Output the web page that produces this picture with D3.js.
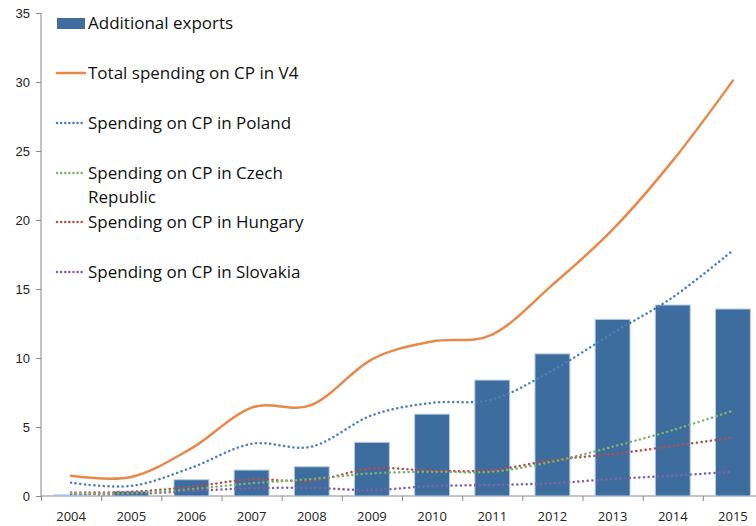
<!DOCTYPE html>
<html>
<head>
<meta charset="utf-8">
<script src="https://cdn.jsdelivr.net/npm/d3@7"></script>
<style>
    body { margin: 0; background: #fff; }
    svg { display: block; font-family: "Open Sans", "Liberation Sans", sans-serif; }
</style>
</head>
<body>
<div id="chart"></div>
<script>
// --- Data ---
const years = ['2004', '2005', '2006', '2007', '2008', '2009', '2010', '2011', '2012', '2013', '2014', '2015'];
const additionalExports = [0.08, 0.35, 1.18, 1.88, 2.12, 3.89, 5.93, 8.4, 10.3, 12.8, 13.84, 13.55];
const totalV4 = [1.47, 1.38, 3.45, 6.4, 6.6, 9.9, 11.2, 11.7, 15.3, 19.3, 24.3, 30.1];
const poland = [0.96, 0.73, 2.05, 3.78, 3.58, 5.85, 6.75, 7.0, 9.1, 11.8, 14.4, 17.8];
const czech = [0.2, 0.2, 0.5, 0.92, 1.23, 1.64, 1.76, 1.76, 2.49, 3.57, 4.78, 6.18];
const hungary = [0.25, 0.3, 0.67, 1.2, 1.1, 2.0, 1.83, 1.88, 2.6, 3.04, 3.62, 4.23];
const slovakia = [0.15, 0.15, 0.36, 0.56, 0.58, 0.43, 0.72, 0.8, 0.92, 1.23, 1.47, 1.76];
const yTicks = [0, 5, 10, 15, 20, 25, 30, 35];

const lineSeries = [
    { name: 'Total spending on CP in V4', values: totalV4, color: '#E8894A', dotted: false },
    { name: 'Spending on CP in Poland', values: poland, color: '#4A7EBB', dotted: true },
    { name: 'Spending on CP in Czech|Republic', values: czech, color: '#7FB069', dotted: true },
    { name: 'Spending on CP in Hungary', values: hungary, color: '#B0504E', dotted: true },
    { name: 'Spending on CP in Slovakia', values: slovakia, color: '#8060A8', dotted: true }
];

// --- Chart ---
const width = 756, height = 526;
const svg = d3.select('#chart').append('svg')
    .attr('width', width)
    .attr('height', height);

const x = d3.scaleBand().domain(years).range([41, 763]).paddingInner(0.42).paddingOuter(0.21);
const y = d3.scaleLinear().domain([0, 35]).range([496, 13]);
const step = x.step();
const cx = d => x(d) + x.bandwidth() / 2;

// y axis
const yAxis = svg.append('g')
    .attr('transform', 'translate(41,0)')
    .call(d3.axisLeft(y).tickValues(yTicks).tickSize(5).tickPadding(6));
yAxis.select('.domain').attr('stroke', '#888').attr('d', `M0,${y(35)}V${y(0)}`);
yAxis.selectAll('.tick line').attr('stroke', '#888');
yAxis.selectAll('.tick text').attr('fill', '#222').style('font-size', '13px');

// x axis
const xAxis = svg.append('g').attr('transform', `translate(0,${y(0)})`);
xAxis.append('line')
    .attr('x1', 41).attr('x2', width)
    .attr('stroke', '#888');
xAxis.selectAll('.xtick')
    .data(years)
    .enter()
    .append('line')
    .attr('x1', d => x(d) - x.paddingInner() * step / 2 + 0.5)
    .attr('x2', d => x(d) - x.paddingInner() * step / 2 + 0.5)
    .attr('y1', 0).attr('y2', 5)
    .attr('stroke', '#888');
xAxis.selectAll('.xlabel')
    .data(years)
    .enter()
    .append('text')
    .attr('x', d => cx(d))
    .attr('y', 25)
    .attr('text-anchor', 'middle')
    .attr('fill', '#222')
    .style('font-size', '13px')
    .text(d => d);

// bars
svg.append('g').selectAll('rect')
    .data(years)
    .enter()
    .append('rect')
    .attr('x', d => x(d))
    .attr('y', (d, i) => y(additionalExports[i]))
    .attr('width', x.bandwidth())
    .attr('height', (d, i) => y(0) - y(additionalExports[i]))
    .attr('fill', '#3D6D9E')
    .attr('stroke', '#B8CCE4')
    .attr('stroke-width', 1);

// lines
const line = d3.line()
    .x(d => cx(d[0]))
    .y(d => y(d[1]))
    .curve(d3.curveCatmullRom.alpha(0));

svg.append('g').selectAll('path')
    .data(lineSeries.slice().reverse())
    .enter()
    .append('path')
    .attr('d', s => line(years.map((yr, i) => [yr, s.values[i]])))
    .attr('fill', 'none')
    .attr('stroke', s => s.color)
    .attr('stroke-width', 2.5)
    .attr('stroke-linecap', 'round')
    .attr('stroke-dasharray', s => s.dotted ? '0.1 4.6' : null);

// legend
const legend = svg.append('g');
const legendRows = [23, 73, 123, 173, 222, 272];

legend.append('rect')
    .attr('x', 57).attr('y', 18)
    .attr('width', 28).attr('height', 11)
    .attr('fill', '#3D6D9E');
legend.append('text')
    .attr('x', 88).attr('y', legendRows[0] + 6)
    .attr('fill', '#111')
    .style('font-size', '17px')
    .text('Additional exports');

lineSeries.forEach((s, i) => {
    const ly = legendRows[i + 1];
    legend.append('line')
        .attr('x1', 57).attr('x2', 85)
        .attr('y1', ly).attr('y2', ly)
        .attr('stroke', s.color)
        .attr('stroke-width', 2.5)
        .attr('stroke-linecap', 'round')
        .attr('stroke-dasharray', s.dotted ? '0.1 4' : null);
    s.name.split('|').forEach((part, j) => {
        legend.append('text')
            .attr('x', 88).attr('y', ly + 6 + j * 24)
            .attr('fill', '#111')
            .style('font-size', '17px')
            .text(part);
    });
});
</script>
</body>
</html>
